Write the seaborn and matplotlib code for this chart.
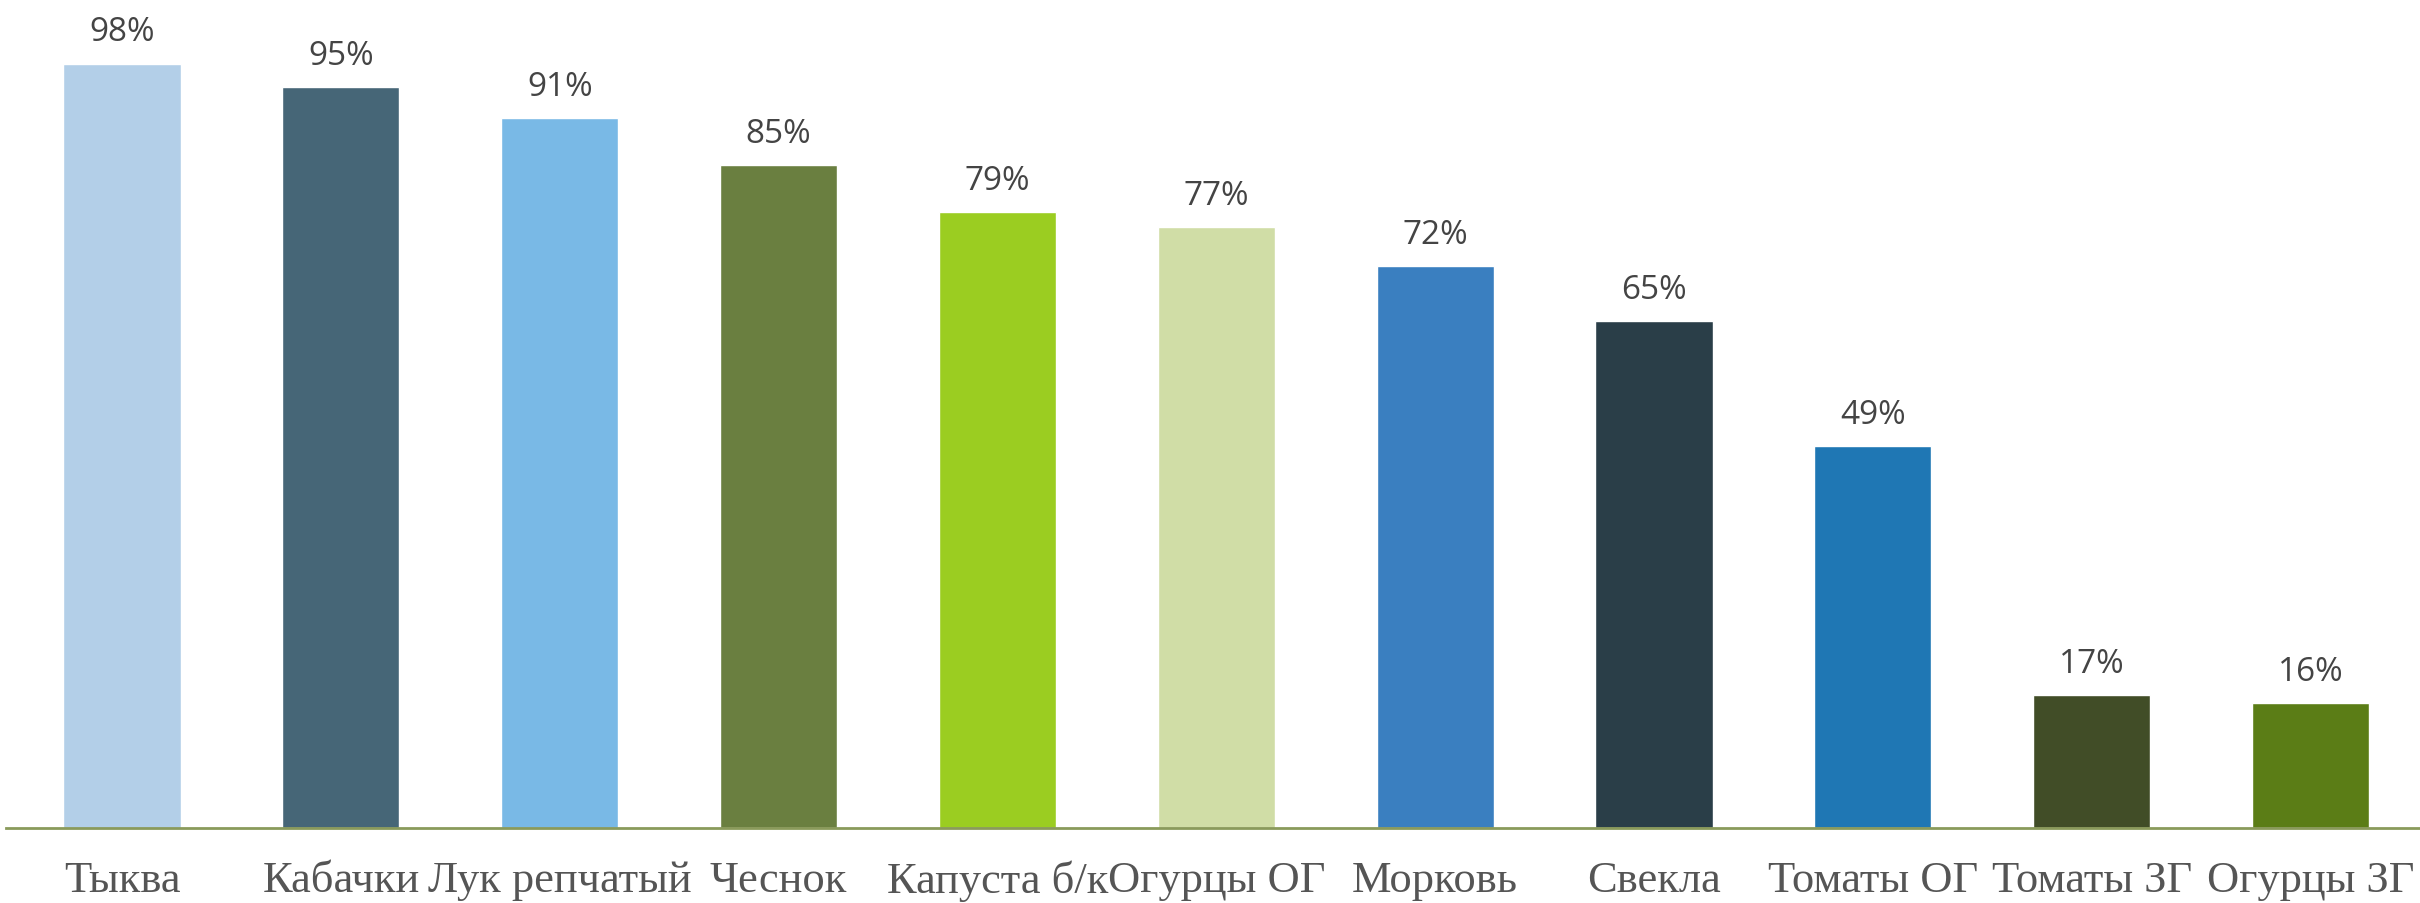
import matplotlib
matplotlib.use("Agg")
import matplotlib.pyplot as plt
import seaborn as sns
import pandas as pd

# data
crops = ["Тыква", "Кабачки", "Лук репчатый", "Чеснок", "Капуста б/к", "Огурцы ОГ",
         "Морковь", "Свекла", "Томаты ОГ", "Томаты ЗГ", "Огурцы ЗГ"]
shares = [98, 95, 91, 85, 79, 77, 72, 65, 49, 17, 16]
colors = ["#b3cfe8", "#466677", "#79b9e6", "#6a7f40", "#9bcd21", "#d0dda6",
          "#3a7fc0", "#2a3e48", "#1f77b4", "#414d27", "#5b7d16"]

sns.set_style("white")
plt.rcParams.update({"figure.dpi": 100, "savefig.dpi": 100})

df = pd.DataFrame({"crop": crops, "share": shares})

fig = plt.figure(figsize=(24.2, 9.04))
ax = fig.add_axes([0.0025, 0.083, 0.9975, 0.917])
sns.barplot(data=df, x="crop", y="share", hue="crop", palette=colors,
            width=0.535, legend=False, saturation=1, ax=ax)

for cont in ax.containers:
    ax.bar_label(cont, labels=[f"{v:.0f}%" for v in cont.datavalues], padding=11,
                 fontsize=24, color="#444444", family="Open Sans")

ax.set_xlim(-0.53, 10.5)
ax.set_ylim(0, 106.3)
ax.set_xlabel(""); ax.set_ylabel("")
ax.set_yticks([])
for s in ["top", "right", "left"]:
    ax.spines[s].set_visible(False)
ax.spines["bottom"].set_color("#8a9a5b")
ax.spines["bottom"].set_linewidth(2)
ax.tick_params(axis="x", length=0, pad=23, labelsize=32, labelcolor="#555555")
for t in ax.get_xticklabels():
    t.set_family("Liberation Serif")

fig.savefig("out.png")
